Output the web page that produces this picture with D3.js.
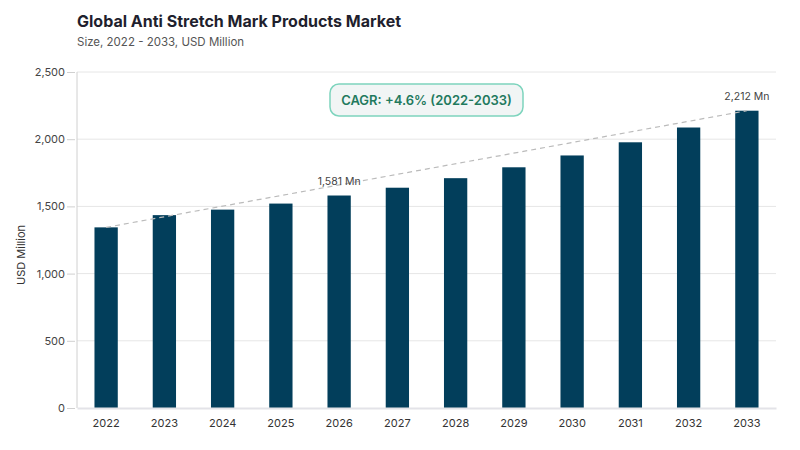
<!DOCTYPE html>
<html>
<head>
<meta charset="utf-8">
<script src="https://cdn.jsdelivr.net/npm/d3@7"></script>
<style>
  body { margin: 0; background: #fff; font-family: Inter, "Noto Sans", sans-serif; }
</style>
</head>
<body>
<div id="chart"></div>
<script>
var years = ["2022", "2023", "2024", "2025", "2026", "2027", "2028", "2029", "2030", "2031", "2032", "2033"];
var values = [1344, 1435, 1476, 1521, 1581, 1639, 1710, 1791, 1879, 1977, 2087, 2212];
var yTicks = [0, 500, 1000, 1500, 2000, 2500];
var labelled = ["2026", "2033"];
var cagrText = "CAGR: +4.6% (2022-2033)";

var svgWidth = 800;
var svgHeight = 450;

var margin = { top: 72, right: 24, bottom: 42, left: 77 };
var width = svgWidth - margin.left - margin.right;
var height = svgHeight - margin.top - margin.bottom;

var svg = d3.select("#chart")
  .append("svg")
  .attr("width", svgWidth)
  .attr("height", svgHeight);

// titles
svg.append("text")
  .attr("x", 77).attr("y", 27)
  .attr("font-size", 16).attr("font-weight", 700).attr("fill", "#1f1f2e")
  .text("Global Anti Stretch Mark Products Market");
svg.append("text")
  .attr("x", 77).attr("y", 46)
  .attr("font-size", 11.5).attr("fill", "#555")
  .text("Size, 2022 - 2033, USD Million");

var chartGroup = svg.append("g")
  .attr("transform", `translate(${margin.left}, ${margin.top})`);

var x = d3.scaleBand().domain(years).range([0, width]).paddingInner(0.6).paddingOuter(0.3);
var y = d3.scaleLinear().domain([0, 2500]).range([height, 0]);

// gridlines
chartGroup.append("g")
  .selectAll("line")
  .data(yTicks.slice(1))
  .enter()
  .append("line")
  .attr("x1", 0).attr("x2", width)
  .attr("y1", d => y(d)).attr("y2", d => y(d))
  .attr("stroke", "#e6e6e6");

// y axis
var leftAxis = d3.axisLeft(y).tickValues(yTicks).tickSize(8).tickPadding(4).tickFormat(d3.format(","));
var yAxis = chartGroup.append("g").call(leftAxis);
yAxis.select(".domain").attr("stroke", "#d0d0d0").attr("d", `M0,0V${height}`);
yAxis.selectAll(".tick line").attr("stroke", "#d0d0d0").attr("x2", -8).attr("transform", "translate(-2,0)");
yAxis.selectAll("text").attr("font-size", 11).attr("fill", "#444").attr("font-family", "Inter, sans-serif");

svg.append("text")
  .attr("transform", "rotate(-90)")
  .attr("x", -255).attr("y", 25)
  .attr("text-anchor", "middle")
  .attr("font-size", 11).attr("fill", "#333")
  .text("USD Million");

// bars
chartGroup.selectAll("rect.bar")
  .data(values)
  .enter()
  .append("rect")
  .attr("class", "bar")
  .attr("x", (d, i) => x(years[i]))
  .attr("y", d => y(d))
  .attr("width", x.bandwidth())
  .attr("height", d => height - y(d))
  .attr("fill", "#023e5b");

// x axis
var bottomAxis = d3.axisBottom(x).tickSize(0).tickPadding(11);
var xAxis = chartGroup.append("g")
  .attr("transform", `translate(0, ${height})`)
  .call(bottomAxis);
xAxis.select(".domain").attr("stroke", "#e3e3e8").attr("stroke-width", 2);
xAxis.selectAll("text").attr("font-size", 11).attr("fill", "#333").attr("font-family", "Inter, sans-serif");

// dashed trend line between first and last bar
var first = 0, last = values.length - 1;
chartGroup.append("line")
  .attr("x1", x(years[first]) + x.bandwidth() / 2)
  .attr("y1", y(values[first]))
  .attr("x2", x(years[last]) + x.bandwidth() / 2)
  .attr("y2", y(values[last]))
  .attr("stroke", "#bbb")
  .attr("stroke-width", 1.2)
  .attr("stroke-dasharray", "5,4");

// value labels
chartGroup.selectAll("text.val")
  .data(years.filter(d => labelled.indexOf(d) >= 0))
  .enter()
  .append("text")
  .attr("class", "val")
  .attr("x", d => x(d) + x.bandwidth() / 2)
  .attr("y", d => y(values[years.indexOf(d)]) - 11)
  .attr("text-anchor", "middle")
  .attr("font-size", 10.5)
  .attr("fill", "#444")
  .text(d => d3.format(",")(values[years.indexOf(d)]) + " Mn");

// CAGR badge
var badge = svg.append("g").attr("transform", "translate(330, 84)");
badge.append("rect")
  .attr("width", 193).attr("height", 32)
  .attr("rx", 9)
  .attr("fill", "#f1f5f5")
  .attr("stroke", "#7dd4bd")
  .attr("stroke-width", 1.5);
badge.append("text")
  .attr("x", 96.5).attr("y", 21)
  .attr("text-anchor", "middle")
  .attr("font-size", 13).attr("font-weight", 600)
  .attr("fill", "#1f7a5e")
  .text(cagrText);
</script>
</body>
</html>
